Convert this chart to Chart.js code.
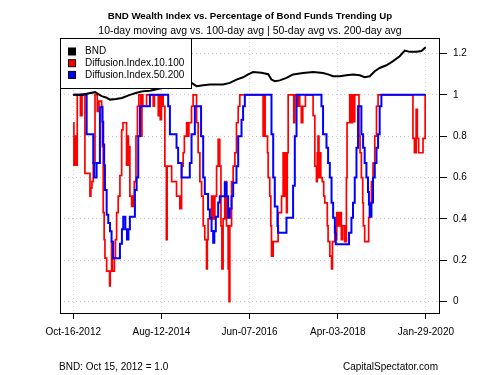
<!DOCTYPE html>
<html lang="en">
<head>
  <meta charset="UTF-8" />
  <title>BND Wealth Index vs. Percentage of Bond Funds Trending Up</title>
  <script src="https://cdn.jsdelivr.net/npm/chart.js"></script>
  <style>
    html, body { margin: 0; padding: 0; background: #fff; }
    #wrap { width: 500px; height: 375px; }
  </style>
</head>
<body>
  <div id="wrap"><canvas id="chart" width="500" height="375"></canvas></div>

  <script>
    // x values are calendar days after Oct-16-2012
    const tickDays = [0, 665, 1330, 1995, 2660];
    const tickLabels = ['Oct-16-2012', 'Aug-12-2014', 'Jun-07-2016', 'Apr-03-2018', 'Jan-29-2020'];
    const yTicks = [0, 0.2, 0.4, 0.6, 0.8, 1, 1.2];

    // BND wealth index (Oct 15, 2012 = 1.0)
    const bndDays = [0, 50, 101, 164, 214, 252, 277, 322, 367, 427, 478, 528, 578, 629, 678, 729, 766, 819,
      892, 930, 980, 1030, 1081, 1130, 1181, 1231, 1281, 1319, 1356, 1420, 1470, 1495, 1520, 1558, 1608,
      1658, 1733, 1809, 1884, 1922, 1959, 2010, 2060, 2110, 2161, 2198, 2236, 2274, 2311, 2362, 2412,
      2462, 2500, 2537, 2588, 2626, 2658];
    const bndValues = [1.0, 1.0, 1.005, 1.013, 0.994, 0.986, 0.977, 0.98, 0.985, 1.0, 1.01, 1.018, 1.02,
      1.027, 1.034, 1.037, 1.042, 1.05, 1.058, 1.042, 1.047, 1.05, 1.05, 1.05, 1.058, 1.074, 1.085, 1.099,
      1.11, 1.107, 1.1, 1.074, 1.066, 1.07, 1.082, 1.099, 1.106, 1.111, 1.106, 1.099, 1.09, 1.09, 1.095,
      1.099, 1.095, 1.085, 1.09, 1.114, 1.13, 1.143, 1.163, 1.187, 1.214, 1.208, 1.208, 1.212, 1.23];

    // Diffusion.Index.10.100 (value holds until the next change)
    const d10Days = [0, 5, 13, 20, 30, 54, 66, 88, 126, 133, 141, 151, 164, 181, 194, 214, 220, 226, 233,
      239, 252, 274, 279, 289, 295, 310, 318, 327, 339, 352, 365, 375, 402, 409, 416, 422, 427, 440, 452,
      460, 473, 484, 495, 510, 518, 525, 553, 603, 612, 641, 648, 656, 665, 678, 691, 702, 708, 742, 779,
      804, 817, 829, 838, 855, 864, 872, 892, 904, 930, 942, 955, 968, 980, 992, 1005, 1011, 1017, 1043,
      1055, 1068, 1081, 1093, 1105, 1114, 1121, 1130, 1143, 1156, 1168, 1175, 1181, 1194, 1206, 1219,
      1231, 1244, 1256, 1432, 1440, 1447, 1465, 1470, 1482, 1490, 1495, 1508, 1545, 1571, 1583, 1594,
      1600, 1608, 1614, 1621, 1663, 1671, 1690, 1696, 1708, 1720, 1731, 1751, 1809, 1822, 1834, 1840,
      1846, 1853, 1859, 1867, 1878, 1889, 1897, 1916, 1922, 1935, 1948, 1955, 1973, 1981, 1987, 1997,
      2010, 2022, 2032, 2047, 2060, 2065, 2085, 2096, 2106, 2112, 2123, 2155, 2163, 2173, 2183, 2188,
      2198, 2228, 2236, 2249, 2261, 2274, 2287, 2299, 2562, 2573, 2586, 2595, 2605, 2638, 2654, 2658];
    const d10Values = [0.865, 0.66, 0.8, 0.66, 1.0, 0.9, 1.0, 0.62, 0.51, 0.55, 0.58, 0.67, 1.0, 0.92,
      0.97, 0.945, 0.75, 0.43, 0.3, 0.21, 0.148, 0.076, 0.148, 0.29, 0.148, 0.21, 0.3, 0.43, 0.51, 0.61,
      0.83, 0.865, 0.66, 0.8, 0.66, 0.75, 0.51, 0.46, 0.51, 0.58, 0.8, 0.945, 1.0, 0.8, 1.0, 0.945, 1.0,
      0.945, 1.0, 0.9, 1.0, 0.88, 1.0, 0.945, 0.655, 0.3, 0.655, 0.58, 0.51, 0.45, 0.655, 0.72, 0.8, 0.865,
      0.8, 0.865, 0.945, 1.0, 0.865, 0.72, 0.58, 0.51, 0.366, 0.3, 0.158, 0.3, 0.4, 0.51, 0.4, 0.51, 0.655,
      0.785, 0.655, 0.366, 0.158, 0.4, 0.58, 0.366, 0.158, 0.0, 0.366, 0.58, 0.655, 0.72, 0.865, 0.945,
      1.0, 0.8, 1.0, 0.8, 0.72, 0.6, 0.51, 0.366, 0.22, 0.29, 0.43, 0.51, 0.72, 0.51, 0.72, 0.43, 0.72,
      1.0, 0.865, 1.0, 0.945, 1.0, 0.945, 0.865, 0.945, 1.0, 0.9, 0.655, 0.58, 0.72, 0.8, 0.6, 0.72, 0.6,
      0.58, 0.51, 0.478, 0.366, 0.29, 0.22, 0.158, 0.29, 0.366, 0.3, 0.43, 0.366, 0.43, 0.3, 0.366, 0.29,
      0.6, 0.865, 1.0, 0.865, 1.0, 0.87, 1.0, 0.8, 0.72, 0.6, 0.478, 0.366, 0.29, 0.406, 0.478, 0.58, 0.67,
      0.8, 0.945, 1.0, 0.79, 0.72, 0.93, 0.79, 0.72, 0.79, 1.0, 1.0];

    // Diffusion.Index.50.200
    const d50Days = [0, 101, 151, 158, 176, 201, 220, 226, 233, 239, 252, 264, 277, 289, 301, 352, 367,
      377, 393, 405, 416, 427, 465, 478, 490, 503, 578, 716, 729, 779, 791, 817, 879, 892, 917, 964, 980,
      992, 1017, 1030, 1043, 1055, 1064, 1075, 1093, 1105, 1143, 1156, 1168, 1181, 1194, 1206, 1231, 1244,
      1269, 1281, 1294, 1495, 1508, 1520, 1540, 1545, 1608, 1658, 1671, 1684, 1872, 1884, 1910, 1922,
      1935, 1948, 1960, 1973, 1980, 2080, 2098, 2110, 2123, 2136, 2148, 2173, 2186, 2198, 2211, 2223,
      2230, 2236, 2249, 2261, 2274, 2287, 2299, 2311, 2324, 2658];
    const d50Values = [1.0, 0.81, 0.67, 0.6, 0.67, 0.94, 0.87, 0.76, 0.66, 0.54, 0.42, 0.38, 0.34, 0.29,
      0.21, 0.28, 0.35, 0.41, 0.35, 0.3, 0.35, 0.41, 0.54, 0.6, 0.8, 0.945, 1.0, 0.945, 0.81, 0.744, 0.67,
      0.6, 0.67, 0.81, 0.945, 0.8, 0.6, 0.52, 0.446, 0.406, 0.342, 0.285, 0.34, 0.41, 0.48, 0.51, 0.575,
      0.51, 0.406, 0.45, 0.51, 0.575, 0.655, 0.8, 0.88, 0.945, 1.0, 0.81, 0.6, 0.46, 0.366, 0.333, 0.406,
      0.56, 0.8, 1.0, 0.945, 0.81, 0.744, 0.67, 0.6, 0.478, 0.406, 0.333, 0.277, 0.333, 0.406, 0.478, 0.6,
      0.744, 0.945, 0.81, 0.744, 0.67, 0.6, 0.53, 0.47, 0.41, 0.48, 0.6, 0.67, 0.744, 0.81, 0.945, 1.0, 1.0];

    const FONT = '"Liberation Sans", Arial, sans-serif';
    const pts = (xs, ys) => xs.map((x, i) => ({ x: x, y: ys[i] }));

    // legend box, plot frame, titles and footnotes
    const extras = {
      id: 'extras',
      afterDraw(chart) {
        const ctx = chart.ctx;
        const a = chart.chartArea;
        ctx.save();
        ctx.strokeStyle = '#000';
        ctx.lineWidth = 1;
        ctx.strokeRect(a.left + 0.5, a.top + 0.5, a.right - a.left - 1, a.bottom - a.top);

        // legend
        ctx.fillStyle = '#fff';
        ctx.fillRect(a.left, a.top, 131, 50);
        ctx.strokeRect(a.left + 0.5, a.top + 0.5, 131, 50);
        const items = [['BND', '#000'], ['Diffusion.Index.10.100', '#ff0000'], ['Diffusion.Index.50.200', '#0000ff']];
        ctx.font = '10px ' + FONT;
        ctx.textBaseline = 'middle';
        items.forEach((it, i) => {
          const y = a.top + 13.5 + i * 11.7;
          ctx.fillStyle = it[1];
          ctx.fillRect(a.left + 8.5, y - 3.5, 7, 7);
          ctx.strokeStyle = '#000';
          ctx.strokeRect(a.left + 8.5, y - 3.5, 7, 7);
          ctx.fillStyle = '#000';
          ctx.fillText(it[0], a.left + 25, y);
        });

        // titles
        ctx.textAlign = 'center';
        ctx.font = 'bold 9.7px ' + FONT;
        ctx.fillText('BND Wealth Index vs. Percentage of Bond Funds Trending Up', 250, 16);
        ctx.font = '10.5px ' + FONT;
        ctx.fillText('10-day moving avg vs. 100-day avg | 50-day avg vs. 200-day avg', 250, 31);

        // footnotes
        ctx.font = '10px ' + FONT;
        ctx.textAlign = 'left';
        ctx.fillText('BND: Oct 15, 2012 = 1.0', 59, 367);
        ctx.textAlign = 'right';
        ctx.fillText('CapitalSpectator.com', 438, 367);
        ctx.restore();
      }
    };

    new Chart(document.getElementById('chart'), {
      type: 'line',
      data: {
        datasets: [
          { label: 'BND', data: pts(bndDays, bndValues), borderColor: '#000', borderWidth: 2, order: 0 },
          { label: 'Diffusion.Index.10.100', data: pts(d10Days, d10Values), borderColor: '#ff0000',
            borderWidth: 1.7, stepped: true, order: 2 },
          { label: 'Diffusion.Index.50.200', data: pts(d50Days, d50Values), borderColor: '#0000ff',
            borderWidth: 2, stepped: true, order: 1 }
        ]
      },
      options: {
        responsive: false,
        animation: false,
        events: [],
        layout: { padding: { left: 60, top: 38, right: 0, bottom: 25 } },
        elements: { point: { radius: 0 }, line: { tension: 0, fill: false } },
        plugins: { legend: { display: false }, title: { display: false }, tooltip: { enabled: false } },
        scales: {
          x: {
            type: 'linear',
            min: -100,
            max: 2766,
            afterBuildTicks: (axis) => { axis.ticks = tickDays.map(v => ({ value: v })); },
            afterFit: (axis) => { axis.height = 37; },
            ticks: {
              autoSkip: false,
              maxRotation: 0,
              padding: 7,
              color: '#000',
              font: { family: FONT, size: 10 },
              callback: (v) => tickLabels[tickDays.indexOf(v)]
            },
            grid: { color: '#c8c8c8', tickColor: '#000', tickLength: 6, tickBorderDash: [] },
            border: { display: false, dash: [1, 3] }
          },
          y: {
            position: 'right',
            min: -0.055,
            max: 1.275,
            afterBuildTicks: (axis) => { axis.ticks = yTicks.map(v => ({ value: v })); },
            afterFit: (axis) => { axis.width = 60; },
            ticks: {
              padding: 6,
              color: '#000',
              font: { family: FONT, size: 10 },
              callback: (v) => String(v)
            },
            grid: { color: '#c8c8c8', tickColor: '#000', tickLength: 7, tickBorderDash: [] },
            border: { display: false, dash: [1, 3] }
          }
        }
      },
      plugins: [extras]
    });
  </script>
</body>
</html>
